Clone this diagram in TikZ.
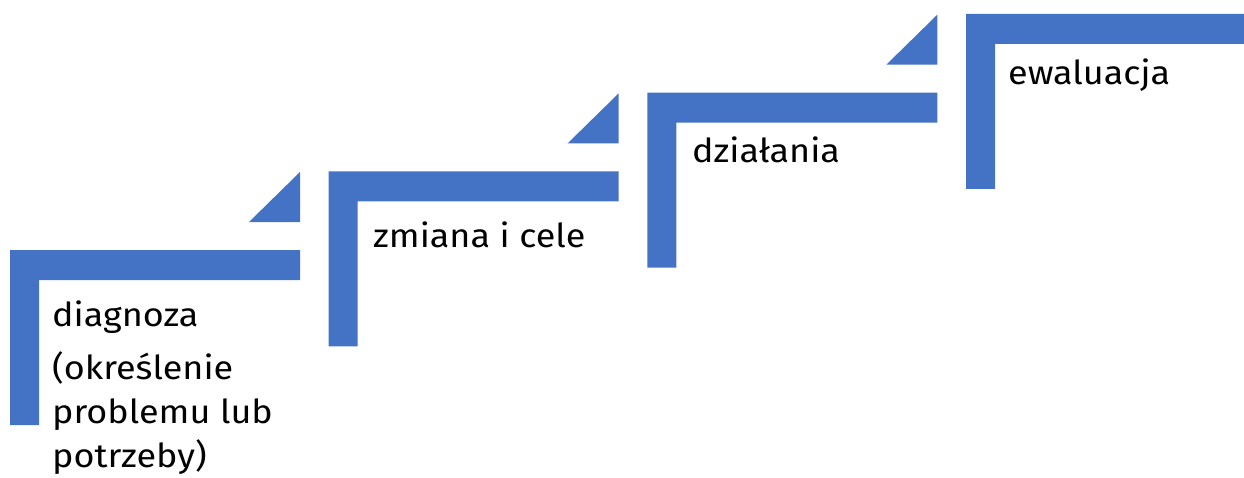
\documentclass[tikz,border=0pt]{standalone}
\usepackage{fontspec}
\setmainfont[FakeStretch=1.09]{Fira Sans}
\usetikzlibrary{calc}
\definecolor{stepblue}{HTML}{4472C4}

\begin{document}
\begin{tikzpicture}[x=1pt,y=-1pt,
  stair/.style={fill=stepblue},
  lbl/.style={anchor=base west,inner sep=0pt,align=left,
    font=\fontsize{33}{44}\selectfont}]
\clip (0,0) rectangle (1244,477);
% the four steps
\foreach \i in {0,...,3}{
  \coordinate (S\i) at ({10+318.7*\i},{250-78.7*\i});
  \fill[stair] (S\i) -- ++(290,0) -- ++(0,30) -- ++(-261,0) -- ++(0,145) -- ++(-29,0) -- cycle;
}
\foreach \i in {0,1,2}
  \fill[stair] ($(S\i)+(239,-28)$) -- ++(51,0) -- ++(0,-50) -- cycle;
% labels (base = last line)
\node[lbl] (diag) at (52,467) {diagnoza\\[9pt](określenie\\problemu lub\\potrzeby)};
\node[lbl] (cele) at (373,247) {zmiana i cele};
\node[lbl] (dzial) at (692,162) {działania};
\node[lbl] (ewal) at (1008,84) {ewaluacja};
\end{tikzpicture}
\end{document}
